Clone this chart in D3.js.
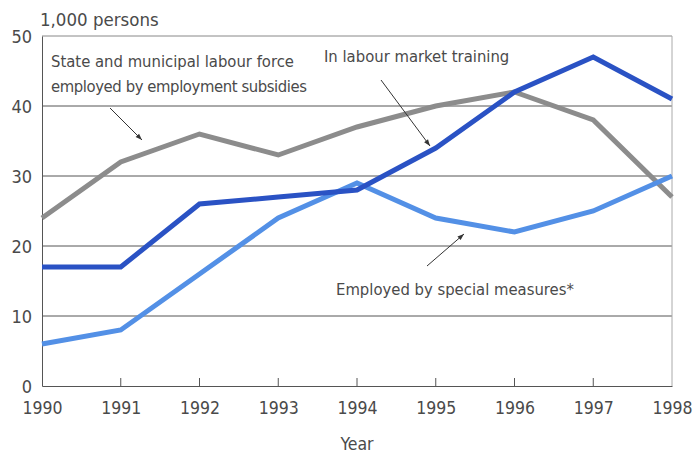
<!DOCTYPE html>
<html><head><meta charset="utf-8">
<script src="https://cdn.jsdelivr.net/npm/d3@7"></script>
<style>
body{margin:0;background:#fff;}
svg text{font-family:"Liberation Sans Narrow","DejaVu Sans Condensed","Roboto",sans-serif;fill:#4a4a4a;}
</style></head>
<body><svg id="c" width="693" height="455"></svg>
<script>
const years = [1990,1991,1992,1993,1994,1995,1996,1997,1998];
const stateMunicipal = [24,32,36,33,37,40,42,38,27];
const labourTraining = [17,17,26,27,28,34,42,47,41];
const specialMeasures = [6,8,16,24,29,24,22,25,30];
const yTicks = [0,10,20,30,40,50];

const svg = d3.select("#c");
const x = d3.scaleLinear().domain([1990,1998]).range([42,672]);
const y = d3.scaleLinear().domain([0,50]).range([386,36]);

// gridlines
svg.append("g").selectAll("line").data(yTicks.filter(d=>d>0)).join("line")
  .attr("x1",x(1990)).attr("x2",x(1998)).attr("y1",d=>y(d)).attr("y2",d=>y(d))
  .attr("stroke",d=>d===50?"#888":"#555").attr("stroke-width",1);
// right border
svg.append("line").attr("x1",x(1998)).attr("x2",x(1998)).attr("y1",y(50)).attr("y2",y(0))
  .attr("stroke","#aaa").attr("stroke-width",1);

// y axis
const ya = svg.append("g").attr("transform",`translate(${x(1990)},0)`)
  .call(d3.axisLeft(y).tickValues(yTicks).tickSize(0).tickPadding(10).tickFormat(d3.format("d")));
ya.select(".domain").attr("stroke","#555");
ya.selectAll("text").attr("font-size",18).attr("dy","0.35em").attr("fill","#4a4a4a");

// x axis
const xa = svg.append("g").attr("transform",`translate(0,${y(0)})`)
  .call(d3.axisBottom(x).tickValues(years).tickSize(0).tickPadding(16).tickFormat(d3.format("d")));
xa.select(".domain").attr("stroke","#555");
xa.selectAll("text").attr("font-size",17.5).attr("dy","0.7em").attr("fill","#4a4a4a");
svg.append("g").selectAll("line").data(years.slice(1,-1)).join("line")
  .attr("x1",d=>x(d)).attr("x2",d=>x(d)).attr("y1",y(0)).attr("y2",y(0)-8)
  .attr("stroke","#555");

const line = d3.line().x((d,i)=>x(years[i])).y(d=>y(d));
const series = [
  {v:stateMunicipal,c:"#8c8c8c"},
  {v:specialMeasures,c:"#5390e6"},
  {v:labourTraining,c:"#2a52c4"}
];
svg.append("g").selectAll("path").data(series).join("path")
  .attr("d",d=>line(d.v)).attr("fill","none").attr("stroke",d=>d.c)
  .attr("stroke-width",5).attr("stroke-linejoin","miter");

// titles
svg.append("text").attr("x",40).attr("y",26).attr("font-size",18.5).text("1,000 persons");
svg.append("text").attr("x",357).attr("y",450).attr("font-size",17.5).attr("text-anchor","middle").text("Year");

// annotations
const ann = svg.append("g");
ann.append("text").attr("x",51).attr("y",67).attr("font-size",16.5).text("State and municipal labour force");
ann.append("text").attr("x",51).attr("y",92).attr("font-size",16.5).attr("textLength",256).text("employed by employment subsidies");
ann.append("text").attr("x",324).attr("y",62).attr("font-size",16.5).text("In labour market training");
ann.append("text").attr("x",336).attr("y",295).attr("font-size",16.5).text("Employed by special measures*");

function arrow(x1,y1,x2,y2){
  ann.append("line").attr("x1",x1).attr("y1",y1).attr("x2",x2).attr("y2",y2)
    .attr("stroke","#333").attr("stroke-width",1);
  const a = Math.atan2(y2-y1,x2-x1), L=7, w=0.35;
  ann.append("path").attr("d",`M${x2},${y2}L${x2-L*Math.cos(a-w)},${y2-L*Math.sin(a-w)}L${x2-L*Math.cos(a+w)},${y2-L*Math.sin(a+w)}Z`)
    .attr("fill","#333");
}
arrow(110,108,142,140);
arrow(381,80,430,146);
arrow(427,266,464,234);
</script></body></html>
